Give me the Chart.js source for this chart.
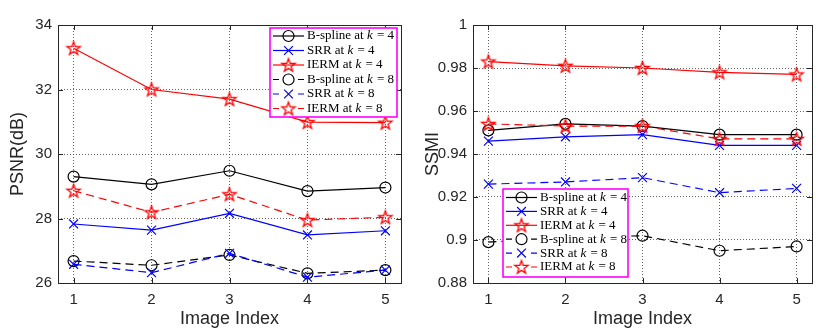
<!DOCTYPE html>
<html>
<head>
<meta charset="utf-8">
<script src="https://cdn.jsdelivr.net/npm/chart.js@4.4.1/dist/chart.umd.min.js"></script>
<style>
  html, body { margin: 0; padding: 0; background: #fff; }
  #wrap { position: relative; width: 831px; height: 333px; }
  #psnrBox { position: absolute; left: 0; top: 0; width: 415px; height: 333px; }
  #ssmiBox { position: absolute; left: 415px; top: 0; width: 416px; height: 333px; }
</style>
</head>
<body>
<div id="wrap">
  <div id="psnrBox"><canvas id="psnrChart" width="415" height="333"></canvas></div>
  <div id="ssmiBox"><canvas id="ssmiChart" width="416" height="333"></canvas></div>
</div>
<script>
// x positions / tick labels
const imageIndex = [1, 2, 3, 4, 5];
const psnrTicks = [26, 28, 30, 32, 34];
const ssmiTicks = [0.88, 0.9, 0.92, 0.94, 0.96, 0.98, 1];

// PSNR (left panel)
const psnrBsplineK4 = [29.30, 29.06, 29.48, 28.85, 28.96];
const psnrSrrK4     = [27.83, 27.64, 28.16, 27.49, 27.62];
const psnrIermK4    = [33.28, 32.00, 31.70, 30.99, 30.97];
const psnrBsplineK8 = [26.68, 26.55, 26.87, 26.30, 26.40];
const psnrSrrK8     = [26.58, 26.32, 26.92, 26.18, 26.40];
const psnrIermK8    = [28.86, 28.19, 28.75, 27.95, 28.04];

// SSMI (right panel)
const ssmiBsplineK4 = [0.951, 0.954, 0.953, 0.949, 0.949];
const ssmiSrrK4     = [0.946, 0.948, 0.949, 0.944, 0.944];
const ssmiIermK4    = [0.983, 0.981, 0.980, 0.978, 0.977];
const ssmiBsplineK8 = [0.899, 0.901, 0.902, 0.895, 0.897];
const ssmiSrrK8     = [0.926, 0.927, 0.929, 0.922, 0.924];
const ssmiIermK8    = [0.954, 0.953, 0.953, 0.947, 0.947];

const methodNames = ['B-spline', 'SRR', 'IERM', 'B-spline', 'SRR', 'IERM'];
const scaleFactors = [4, 4, 4, 8, 8, 8];

const SANS = '"Liberation Sans", Arial, sans-serif';
const SERIF = '"Liberation Serif", "Times New Roman", serif';
const AXIS_COLOR = '#262626';

// hollow pentagram marker, like matlab 'p'
function makeStar(color, r) {
  const c = document.createElement('canvas');
  const s = Math.ceil(r * 2 + 4);
  c.width = s; c.height = s;
  const g = c.getContext('2d');
  g.strokeStyle = color;
  g.lineWidth = 1.3;
  g.beginPath();
  for (let i = 0; i < 10; i++) {
    const rr = i % 2 === 0 ? r : r * 0.4;
    const a = -Math.PI / 2 + i * Math.PI / 5;
    const px = s / 2 + rr * Math.cos(a), py = s / 2 + rr * Math.sin(a) + 0.6;
    if (i === 0) g.moveTo(px, py); else g.lineTo(px, py);
  }
  g.closePath();
  g.stroke();
  return c;
}
const redStar = makeStar('#ff0000', 7);

const styles = [
  { color: '#000000', marker: 'circle', dashed: false },
  { color: '#0000ff', marker: 'x', dashed: false },
  { color: '#ff0000', marker: 'star', dashed: false },
  { color: '#000000', marker: 'circle', dashed: true },
  { color: '#0000ff', marker: 'x', dashed: true },
  { color: '#ff0000', marker: 'star', dashed: true },
];

function makeDataset(values, i) {
  const st = styles[i];
  return {
    label: methodNames[i] + ' at k = ' + scaleFactors[i],
    data: values.map((v, j) => ({ x: imageIndex[j], y: v })),
    borderColor: st.color,
    backgroundColor: 'rgba(0,0,0,0)',
    borderWidth: 1.2,
    borderDash: st.dashed ? [8, 5] : [],
    pointStyle: st.marker === 'star' ? redStar : (st.marker === 'x' ? 'crossRot' : 'circle'),
    pointRadius: st.marker === 'circle' ? 5.5 : (st.marker === 'x' ? 6.3 : 7),
    pointBorderColor: st.color,
    pointBackgroundColor: 'rgba(0,0,0,0)',
    pointBorderWidth: 1.2,
    tension: 0,
    order: 6 - i,
  };
}

function drawMarker(ctx, marker, color, x, y) {
  ctx.save();
  ctx.setLineDash([]);
  ctx.strokeStyle = color;
  ctx.lineWidth = 1.2;
  if (marker === 'circle') {
    ctx.beginPath(); ctx.arc(x, y, 5.5, 0, Math.PI * 2); ctx.stroke();
  } else if (marker === 'x') {
    ctx.beginPath();
    ctx.moveTo(x - 4.4, y - 4.4); ctx.lineTo(x + 4.4, y + 4.4);
    ctx.moveTo(x + 4.4, y - 4.4); ctx.lineTo(x - 4.4, y + 4.4);
    ctx.stroke();
  } else {
    ctx.drawImage(redStar, x - redStar.width / 2, y - redStar.height / 2);
  }
  ctx.restore();
}

// box frame, inward ticks and the magenta legend
const matlabFrame = {
  id: 'matlabFrame',
  afterDraw(chart, args, opts) {
    const ctx = chart.ctx;
    const a = chart.chartArea;
    const xs = chart.scales.x, ys = chart.scales.y;
    ctx.save();
    ctx.strokeStyle = AXIS_COLOR;
    ctx.lineWidth = 1;
    ctx.strokeRect(Math.round(a.left) + 0.5, Math.round(a.top) + 0.5,
      Math.round(a.right - a.left), Math.round(a.bottom - a.top));
    ctx.beginPath();
    xs.ticks.forEach(t => {
      const px = Math.round(xs.getPixelForValue(t.value)) + 0.5;
      ctx.moveTo(px, a.bottom); ctx.lineTo(px, a.bottom - 5);
      ctx.moveTo(px, a.top); ctx.lineTo(px, a.top + 5);
    });
    ys.ticks.forEach(t => {
      const py = Math.round(ys.getPixelForValue(t.value)) + 0.5;
      ctx.moveTo(a.left, py); ctx.lineTo(a.left + 5, py);
      ctx.moveTo(a.right, py); ctx.lineTo(a.right - 5, py);
    });
    ctx.stroke();

    // legend
    const L = opts.box;
    ctx.fillStyle = '#ffffff';
    ctx.fillRect(L.x, L.y, L.w, L.h);
    ctx.strokeStyle = '#ff00ff';
    ctx.lineWidth = 1.6;
    ctx.strokeRect(L.x, L.y, L.w, L.h);
    ctx.textBaseline = 'middle';
    styles.forEach((st, i) => {
      const cy = L.y + L.firstRow + i * L.rowStep;
      const x0 = L.x + 3, x1 = L.x + 34, mx = (x0 + x1) / 2;
      ctx.save();
      ctx.strokeStyle = st.color;
      ctx.lineWidth = 1.2;
      ctx.setLineDash(st.dashed ? [7, 5] : []);
      ctx.beginPath();
      if (st.dashed) {
        ctx.moveTo(x0, cy); ctx.lineTo(x0 + 6, cy);
        ctx.moveTo(x1 - 6, cy); ctx.lineTo(x1, cy);
      } else {
        ctx.moveTo(x0, cy); ctx.lineTo(x1, cy);
      }
      ctx.stroke();
      ctx.restore();
      drawMarker(ctx, st.marker, st.color, mx, cy);
      // text with italic k
      ctx.fillStyle = '#000';
      let tx = x1 + 3;
      ctx.font = '13px ' + SERIF;
      const p1 = methodNames[i] + ' at ';
      ctx.fillText(p1, tx, cy); tx += ctx.measureText(p1).width;
      ctx.font = 'italic 13px ' + SERIF;
      ctx.fillText('k', tx, cy); tx += ctx.measureText('k').width;
      ctx.font = '13px ' + SERIF;
      const p3 = ' = ' + scaleFactors[i];
      ctx.fillText(p3, tx + 1, cy);
    });
    ctx.restore();
  }
};

function buildOptions(yTicks, yTitle, padRight, box, fmt) {
  return {
    responsive: false,
    animation: false,
    layout: { padding: { left: 0, top: 25, right: padRight, bottom: 0 } },
    plugins: {
      legend: { display: false },
      tooltip: { enabled: false },
      matlabFrame: { box: box },
    },
    scales: {
      x: {
        type: 'linear',
        min: 0.8,
        max: 5.2,
        afterBuildTicks: s => { s.ticks = imageIndex.map(v => ({ value: v })); },
        afterFit: s => { s.height = 50; },
        ticks: { font: { family: SANS, size: 15 }, color: AXIS_COLOR, padding: 8,
          maxRotation: 0, autoSkip: false, callback: v => String(v) },
        grid: { color: 'rgba(60,60,60,0.8)', lineWidth: 1, drawTicks: false },
        border: { display: false, dash: [1, 2] },
        title: { display: true, text: 'Image Index', color: AXIS_COLOR,
          font: { family: SANS, size: 18 }, padding: { top: 0, bottom: 3 } },
      },
      y: {
        type: 'linear',
        min: yTicks[0],
        max: yTicks[yTicks.length - 1],
        afterBuildTicks: s => { s.ticks = yTicks.map(v => ({ value: v })); },
        afterFit: s => { s.width = 58; },
        ticks: { font: { family: SANS, size: 15 }, color: AXIS_COLOR, padding: 6,
          autoSkip: false, callback: fmt },
        grid: { color: 'rgba(60,60,60,0.8)', lineWidth: 1, drawTicks: false },
        border: { display: false, dash: [1, 2] },
        title: { display: true, text: yTitle, color: AXIS_COLOR,
          font: { family: SANS, size: 18 }, padding: { top: 7, bottom: 0 } },
      },
    },
  };
}

new Chart(document.getElementById('psnrChart').getContext('2d'), {
  type: 'line',
  data: {
    datasets: [psnrBsplineK4, psnrSrrK4, psnrIermK4, psnrBsplineK8, psnrSrrK8, psnrIermK8]
      .map(makeDataset),
  },
  options: buildOptions(psnrTicks, 'PSNR(dB)', 14,
    { x: 270, y: 28, w: 127, h: 89, firstRow: 8, rowStep: 14.5 },
    v => String(v)),
  plugins: [matlabFrame],
});

new Chart(document.getElementById('ssmiChart').getContext('2d'), {
  type: 'line',
  data: {
    datasets: [ssmiBsplineK4, ssmiSrrK4, ssmiIermK4, ssmiBsplineK8, ssmiSrrK8, ssmiIermK8]
      .map(makeDataset),
  },
  options: buildOptions(ssmiTicks, 'SSMI', 19,
    { x: 88, y: 189, w: 125, h: 88, firstRow: 8.5, rowStep: 13.9 },
    v => String(+v.toFixed(2))),
  plugins: [matlabFrame],
});
</script>
</body>
</html>
